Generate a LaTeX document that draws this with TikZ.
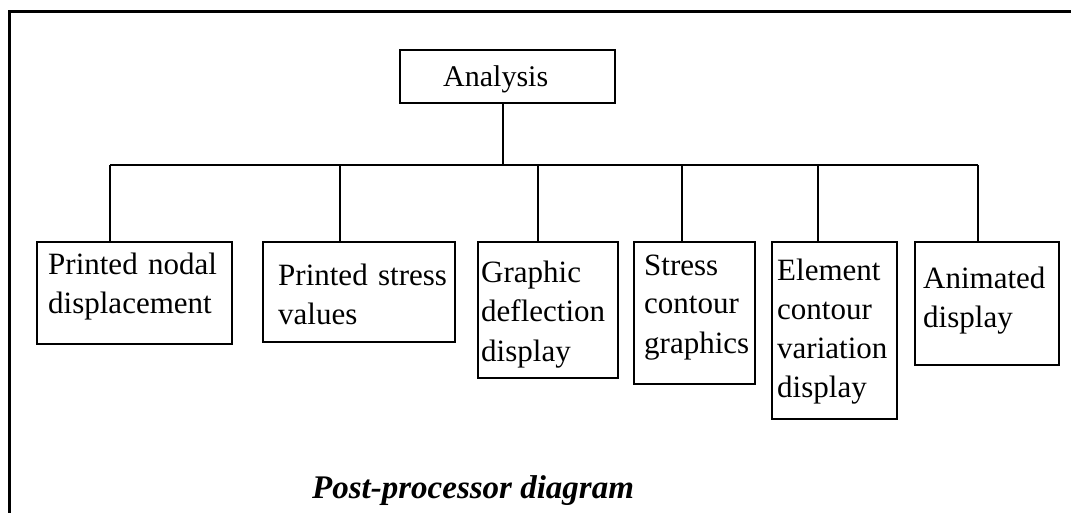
\documentclass[tikz,border=0pt]{standalone}
\usepackage{fontspec}
\setmainfont{Liberation Serif}
\begin{document}
\begin{tikzpicture}[x=1pt,y=-1pt,
  box/.style={draw, line width=1.8pt, inner sep=0pt, anchor=north west},
  txt/.style={anchor=base west, inner sep=0pt, align=left, text width=180pt,
    font=\fontsize{31}{39}\selectfont},
  link/.style={line width=1.6pt}]
\useasboundingbox (0,0) rectangle (1071,513);
% open frame: left and top edges only
\draw[line width=3pt] (9,513) -- (9,12) -- (1071,12);

% root box
\node[box, minimum width=215pt, minimum height=53pt] (an) at (399,49) {};
\node[txt, font=\fontsize{30}{39}\selectfont] (tan) at (443,87) {Analysis};

% leaf boxes
\node[box, minimum width=195pt, minimum height=102pt] (b1) at (36,241) {};
\node[box, minimum width=192pt, minimum height=100pt] (b2) at (262,241) {};
\node[box, minimum width=140pt, minimum height=136pt] (b3) at (477,241) {};
\node[box, minimum width=121pt, minimum height=142pt] (b4) at (633,241) {};
\node[box, minimum width=125pt, minimum height=177pt] (b5) at (771,241) {};
\node[box, minimum width=144pt, minimum height=123pt] (b6) at (914,241) {};

\node[txt] (t1) at (48,274)  {Printed nodal\\displacement};
\node[txt] (t2) at (278,285) {Printed stress\\values};
\node[txt] (t3) at (481,283) {Graphic\\deflection\\display};
\node[txt] (t4) at (644,275) {Stress\\contour\\graphics};
\node[txt] (t5) at (777,280) {Element\\contour\\variation\\display};
\node[txt] (t6) at (923,288) {Animated\\display};

% bus and drops
\coordinate (hub) at (503,165);
\coordinate (d1) at (110,165);
\coordinate (d2) at (340,165);
\coordinate (d3) at (538,165);
\coordinate (d4) at (682,165);
\coordinate (d5) at (818,165);
\coordinate (d6) at (978,165);
\draw[link] (an.south -| hub) -- (hub);
\draw[link] (d1) -- (d6);
\foreach \i in {1,...,6} {
  \draw[link] (d\i) -- (d\i |- b\i.north);
}

% caption
\node[anchor=base west, inner sep=0pt, font=\fontsize{33}{34}\selectfont\bfseries\itshape]
  (cap) at (312,498) {Post-processor diagram};
\end{tikzpicture}
\end{document}
